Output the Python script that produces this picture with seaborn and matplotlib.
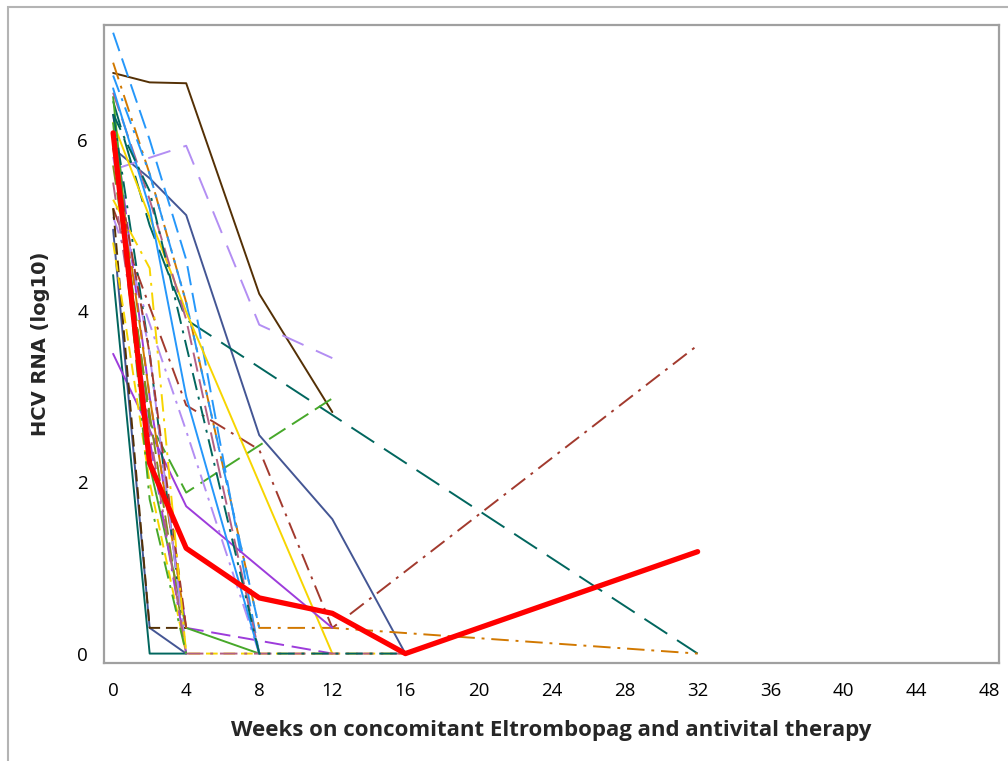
import matplotlib
matplotlib.use("Agg")
import matplotlib.pyplot as plt
from matplotlib.patches import Rectangle
import seaborn as sns
import pandas as pd

# SAS HTMLBlue style data colours
BLUE, RED, TEAL, BROWN = '#445694', '#A23A2E', '#01665E', '#543005'
PURPLE, OLIVE, LBLUE, PINK = '#9D3CDB', '#7F8E1F', '#2597FA', '#B26084'
ORANGE, GREEN, LAV, YELLOW = '#D17800', '#47A82A', '#B38EF3', '#F7D500'

# per-subject HCV RNA (log10) by week
weeks = {
    's01': [0, 2, 4, 8, 12],
    's02': [0, 2, 4, 8, 12, 16],
    's03': [0, 2, 4],
    's04': [0, 2, 4, 32],
    's05': [0, 2, 4, 12],
    's06': [0, 4, 8, 12],
    's07': [0, 4, 8, 12, 32],
    's08': [0, 2, 4, 8, 12, 32],
    's09': [0, 2, 4, 8],
    's10': [0, 2, 4, 8],
    's11': [0, 4, 12],
    's12': [0, 4, 12],
    's13': [0, 2, 4, 8, 12],
    's14': [0, 2, 4, 8],
    's15': [0, 2, 4, 8],
    's16': [0, 4, 8],
    's17': [0, 2, 4],
    's18': [0, 2, 4],
    's19': [0, 2, 4],
    's20': [0, 2, 4],
    's21': [0, 2, 4, 8, 12, 16],
    's22': [0, 2, 4],
    's23': [0, 2, 4],
    's24': [0, 2, 4],
    's25': [0, 2, 4],
    's26': [0, 2, 4, 8, 12, 16],
    's27': [0, 2, 4, 8],
    's28': [0, 2, 4, 8, 12, 16],
    's29': [0, 2, 4],
    's30': [0, 2, 4],
}
hcv = {
    's01': [6.78, 6.67, 6.66, 4.20, 2.82],
    's02': [5.90, 5.55, 5.12, 2.55, 1.57, 0.0],
    's03': [4.42, 0.0, 0.0],
    's04': [6.45, 5.00, 3.90, 0.0],
    's05': [6.00, 2.70, 1.88, 2.98],
    's06': [5.65, 5.93, 3.84, 3.45],
    's07': [5.20, 2.90, 2.38, 0.30, 3.60],
    's08': [6.90, 5.60, 4.10, 0.30, 0.30, 0.0],
    's09': [7.25, 6.00, 4.60, 0.0],
    's10': [6.75, 5.60, 4.10, 0.30],
    's11': [6.20, 3.99, 0.0],
    's12': [3.50, 1.72, 0.30],
    's13': [6.30, 3.00, 0.30, 0.15, 0.0],
    's14': [6.50, 2.20, 0.30, 0.0],
    's15': [6.55, 5.30, 3.90, 0.0],
    's16': [5.10, 2.60, 0.0],
    's17': [4.95, 0.30, 0.0],
    's18': [5.20, 0.30, 0.30],
    's19': [6.30, 3.50, 0.0],
    's20': [5.70, 2.80, 0.0],
    's21': [4.80, 2.00, 0.0, 0.0, 0.0, 0.0],
    's22': [6.10, 3.00, 0.30],
    's23': [6.00, 2.50, 0.0],
    's24': [5.80, 3.50, 0.0],
    's25': [5.90, 3.50, 0.30],
    's26': [5.50, 2.60, 0.0, 0.0, 0.0, 0.0],
    's27': [6.60, 5.20, 3.00, 0.0],
    's28': [6.30, 5.40, 3.60, 0.0, 0.0, 0.0],
    's29': [5.30, 4.50, 0.0],
    's30': [6.20, 1.80, 0.0],
}
# mean profile
mean_weeks = [0, 2, 4, 8, 12, 16, 32]
mean_hcv = [6.08, 2.22, 1.23, 0.65, 0.47, 0.0, 1.19]

x_ticks = list(range(0, 49, 4))
y_ticks = [0, 2, 4, 6]

# line look per subject
LD, XLD, DD, MD = (10, 4), (14, 6), (9, 3.5, 1.5, 3.5), (6, 3)
colors = {
    's01': BROWN, 's02': BLUE, 's03': TEAL, 's04': TEAL, 's05': GREEN,
    's06': LAV, 's07': RED, 's08': ORANGE, 's09': LBLUE, 's10': LBLUE,
    's11': YELLOW, 's12': PURPLE, 's13': PURPLE, 's14': GREEN, 's15': PINK,
    's16': LAV, 's17': BLUE, 's18': BROWN, 's19': TEAL, 's20': OLIVE,
    's21': YELLOW, 's22': ORANGE, 's23': PURPLE, 's24': LAV, 's25': RED,
    's26': PINK, 's27': LBLUE, 's28': TEAL, 's29': YELLOW, 's30': GREEN,
}
dashes = {
    's01': '', 's02': '', 's03': '', 's04': XLD, 's05': LD,
    's06': (12, 7), 's07': DD, 's08': DD, 's09': LD, 's10': DD,
    's11': '', 's12': '', 's13': LD, 's14': '', 's15': LD,
    's16': DD, 's17': '', 's18': MD, 's19': DD, 's20': LD,
    's21': MD, 's22': LD, 's23': DD, 's24': XLD, 's25': MD,
    's26': DD, 's27': '', 's28': DD, 's29': DD, 's30': DD,
}

rows = []
for s in weeks:
    for w, v in zip(weeks[s], hcv[s]):
        rows.append({'subj': s, 'week': w, 'rna': v})
df = pd.DataFrame(rows)

sns.set_style("white")
plt.rcParams['font.family'] = ['Open Sans', 'DejaVu Sans']

fig = plt.figure(figsize=(10.08, 7.61), dpi=100)
ax = fig.add_axes([104/1008, 1-663/761, 895/1008, 638/761])

sns.lineplot(data=df, x='week', y='rna', hue='subj', style='subj',
             palette=colors, dashes=dashes, estimator=None, sort=False,
             legend=False, lw=1.4, ax=ax)
sns.lineplot(x=mean_weeks, y=mean_hcv, color='#FF0000', lw=3.8, ax=ax)

ax.set_xlim(-0.5, 48.5)
ax.set_ylim(-0.11, 7.34)
ax.set_xticks(x_ticks)
ax.set_yticks(y_ticks)
ax.tick_params(axis='both', direction='out', color='#a0a0a0', width=1.4,
               labelsize=13.5, labelcolor='black')
ax.tick_params(axis='x', length=6, pad=8)
ax.tick_params(axis='y', length=6.5, pad=5)
for sp in ax.spines.values():
    sp.set_color('#a0a0a0')
    sp.set_linewidth(1.6)

ax.set_xlabel('Weeks on concomitant Eltrombopag and antivital therapy',
              fontsize=16, fontweight='bold', family=['Open Sans', 'DejaVu Sans'])
ax.xaxis.set_label_coords(0.5, -0.09)
ax.set_ylabel('HCV RNA (log10)', fontsize=14, fontweight='bold', family='DejaVu Sans')
ax.yaxis.set_label_coords(-0.06, 0.5)

# outer graph border
fig.add_artist(Rectangle((7.5/1008, -0.05), 1.5, 0.05 + 1 - 6.5/761,
                         transform=fig.transFigure, fill=False,
                         edgecolor='#b4b4b4', lw=1.5, clip_on=False))

fig.savefig('out.png', dpi=100)
